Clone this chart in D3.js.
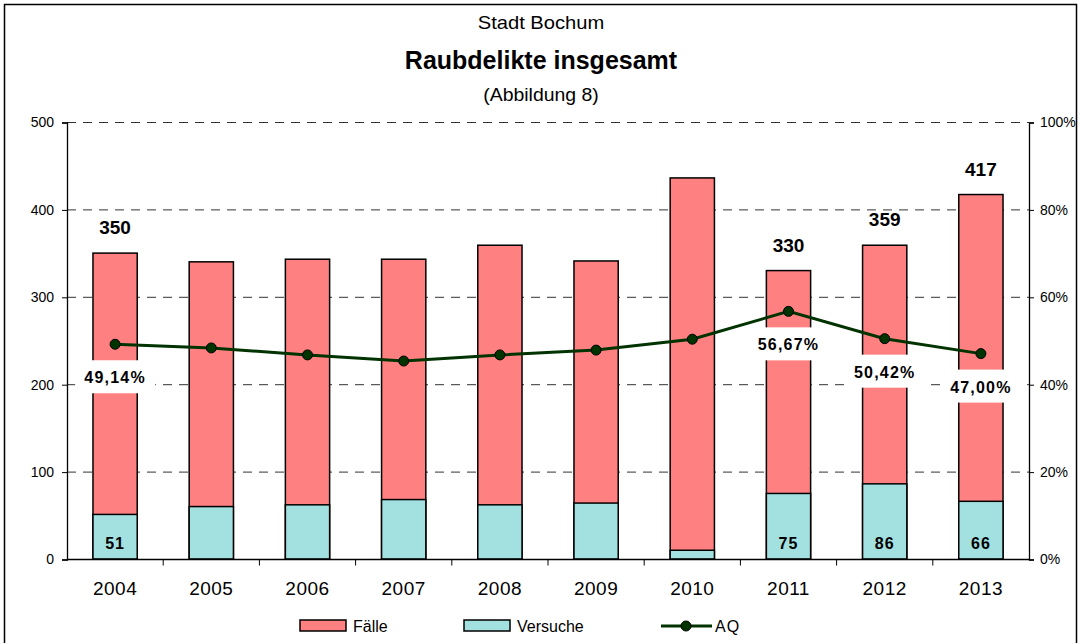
<!DOCTYPE html>
<html>
<head>
<meta charset="utf-8">
<script src="https://cdn.jsdelivr.net/npm/d3@7"></script>
<style>
  body { margin: 0; background: #fff; }
  text { font-family: "Liberation Sans", Arial, sans-serif; }
</style>
</head>
<body>
<script>
// data
var years = ["2004", "2005", "2006", "2007", "2008", "2009", "2010", "2011", "2012", "2013"];
var faelle = [350, 340, 343, 343, 359, 341, 436, 330, 359, 417];
var versuche = [51, 60, 62, 68, 62, 64, 10, 75, 86, 66];
var aq = [49.14, 48.3, 46.7, 45.3, 46.7, 47.8, 50.3, 56.67, 50.42, 47.00];
var showLabel = ["2004", "2011", "2012", "2013"];
var leftTicks = [0, 100, 200, 300, 400, 500];
var rightTicks = [0, 20, 40, 60, 80, 100];

var W = 1082, H = 643;
var pLeft = 67, pRight = 1029, pTop = 122, pBottom = 559;

var svg = d3.select('body').append('svg')
  .attr('width', W)
  .attr('height', H);

// outer frame
svg.append('rect')
  .attr('x', 4.5).attr('y', 4.5)
  .attr('width', 1072).attr('height', 660)
  .attr('fill', 'none').attr('stroke', '#000').attr('stroke-width', 1.5);

var x = d3.scaleBand().domain(years).range([pLeft, pRight]).paddingInner(0.54).paddingOuter(0.27);
var y = d3.scaleLinear().domain([0, 500]).range([pBottom, pTop]);
var y2 = d3.scaleLinear().domain([0, 100]).range([pBottom, pTop]);

// titles (reference font is a bit wider, so stretch horizontally)
svg.append('text').attr('transform', 'translate(541,29) scale(1.12,1)').attr('text-anchor', 'middle')
  .style('font-size', '18px').text('Stadt Bochum');
svg.append('text').attr('transform', 'translate(541,69)').attr('text-anchor', 'middle')
  .style('font-size', '25px').style('font-weight', 'bold').text('Raubdelikte insgesamt');
svg.append('text').attr('transform', 'translate(541,101) scale(1.08,1)').attr('text-anchor', 'middle')
  .style('font-size', '18px').text('(Abbildung 8)');

// gridlines
svg.append('g').selectAll('line')
  .data(leftTicks.slice(1))
  .enter().append('line')
  .attr('x1', pLeft).attr('x2', pRight)
  .attr('y1', function(d){ return y(d) + 0.5; })
  .attr('y2', function(d){ return y(d) + 0.5; })
  .attr('stroke', '#333').attr('stroke-width', 1)
  .attr('stroke-dasharray', '9,7');

// axes
var yAxis = svg.append('g')
  .attr('transform', 'translate(' + pLeft + ',0.5)')
  .call(d3.axisLeft(y).tickValues(leftTicks).tickSizeOuter(0).tickSize(5).tickPadding(8));
var yAxis2 = svg.append('g')
  .attr('transform', 'translate(' + pRight + ',0.5)')
  .call(d3.axisRight(y2).tickValues(rightTicks).tickSizeOuter(0).tickSize(5).tickPadding(6)
    .tickFormat(function(d){ return d + '%'; }));
[yAxis, yAxis2].forEach(function(a){
  a.select('.domain').attr('stroke', '#000').attr('stroke-width', 1.3);
  a.selectAll('.tick line').attr('stroke', '#000');
  a.selectAll('text').style('font-size', '14px').attr('fill', '#000')
    .style('font-family', '"Liberation Sans", Arial, sans-serif');
});

// bars
var bars = svg.append('g');
bars.selectAll('.fall')
  .data(faelle)
  .enter().append('rect')
  .attr('class', 'fall')
  .attr('x', function(d, i){ return x(years[i]); })
  .attr('y', function(d){ return y(d); })
  .attr('width', x.bandwidth())
  .attr('height', function(d){ return y(0) - y(d); })
  .attr('fill', '#ff8080').attr('stroke', '#000').attr('stroke-width', 1.5);
bars.selectAll('.vers')
  .data(versuche)
  .enter().append('rect')
  .attr('class', 'vers')
  .attr('x', function(d, i){ return x(years[i]); })
  .attr('y', function(d){ return y(d); })
  .attr('width', x.bandwidth())
  .attr('height', function(d){ return y(0) - y(d); })
  .attr('fill', '#a3e0e0').attr('stroke', '#000').attr('stroke-width', 1.5);

// x axis
var step = x.step();
var xAxis = svg.append('g').attr('transform', 'translate(0,' + (pBottom + 0.5) + ')');
xAxis.append('line').attr('x1', pLeft).attr('x2', pRight).attr('stroke', '#000').attr('stroke-width', 1.5);
xAxis.selectAll('.tk')
  .data(years.slice(1))
  .enter().append('line')
  .attr('x1', function(d){ return x(d) - (step - x.bandwidth()) / 2; })
  .attr('x2', function(d){ return x(d) - (step - x.bandwidth()) / 2; })
  .attr('y1', 0).attr('y2', 6).attr('stroke', '#000');
xAxis.selectAll('text')
  .data(years)
  .enter().append('text')
  .attr('x', function(d){ return x(d) + x.bandwidth() / 2; })
  .attr('y', 35)
  .attr('text-anchor', 'middle')
  .style('font-size', '19px')
  .style('letter-spacing', '0.5px')
  .text(function(d){ return d; });

// AQ line
var cx = function(d, i){ return x(years[i]) + x.bandwidth() / 2; };
svg.append('path')
  .datum(aq)
  .attr('d', d3.line().x(cx).y(function(d){ return y2(d); }))
  .attr('fill', 'none').attr('stroke', '#003300').attr('stroke-width', 3);
svg.append('g').selectAll('circle')
  .data(aq)
  .enter().append('circle')
  .attr('cx', cx)
  .attr('cy', function(d){ return y2(d); })
  .attr('r', 5)
  .attr('fill', '#003300').attr('stroke', '#000').attr('stroke-width', 1);

// labels
var fmt = function(v){ return v.toFixed(2).replace('.', ',') + '%'; };
years.forEach(function(yr, i){
  if (showLabel.indexOf(yr) < 0) return;
  var c = x(yr) + x.bandwidth() / 2;
  svg.append('text').attr('x', c).attr('y', y(faelle[i]) - 19)
    .attr('text-anchor', 'middle').style('font-size', '19px').style('font-weight', 'bold')
    .text(faelle[i]);
  svg.append('text').attr('x', c).attr('y', pBottom - 10)
    .attr('text-anchor', 'middle').style('font-size', '16px').style('font-weight', 'bold')
    .style('letter-spacing', '1px')
    .text(versuche[i]);
  var ly = y2(aq[i]) + 33;
  svg.append('rect').attr('x', c - 40).attr('y', ly - 17).attr('width', 80).attr('height', 33)
    .attr('fill', '#fff');
  svg.append('text').attr('x', c).attr('y', ly + 6)
    .attr('text-anchor', 'middle').style('font-size', '16px').style('font-weight', 'bold')
    .style('letter-spacing', '1.2px')
    .text(fmt(aq[i]));
});

// legend
var lg = svg.append('g').attr('transform', 'translate(0,626)');
lg.append('rect').attr('x', 300).attr('y', -6).attr('width', 46).attr('height', 11)
  .attr('fill', '#ff8080').attr('stroke', '#000').attr('stroke-width', 1.5);
lg.append('text').attr('x', 353).attr('y', 6).style('font-size', '16px').text('Fälle');
lg.append('rect').attr('x', 464).attr('y', -6).attr('width', 46).attr('height', 11)
  .attr('fill', '#a3e0e0').attr('stroke', '#000').attr('stroke-width', 1.5);
lg.append('text').attr('x', 517).attr('y', 6).style('font-size', '16px').text('Versuche');
lg.append('line').attr('x1', 661).attr('x2', 712).attr('y1', 0).attr('y2', 0)
  .attr('stroke', '#003300').attr('stroke-width', 3);
lg.append('circle').attr('cx', 686).attr('cy', 0).attr('r', 5)
  .attr('fill', '#003300').attr('stroke', '#000');
lg.append('text').attr('x', 715).attr('y', 6).style('font-size', '16px').style('letter-spacing', '1px').text('AQ');
</script>
</body>
</html>
